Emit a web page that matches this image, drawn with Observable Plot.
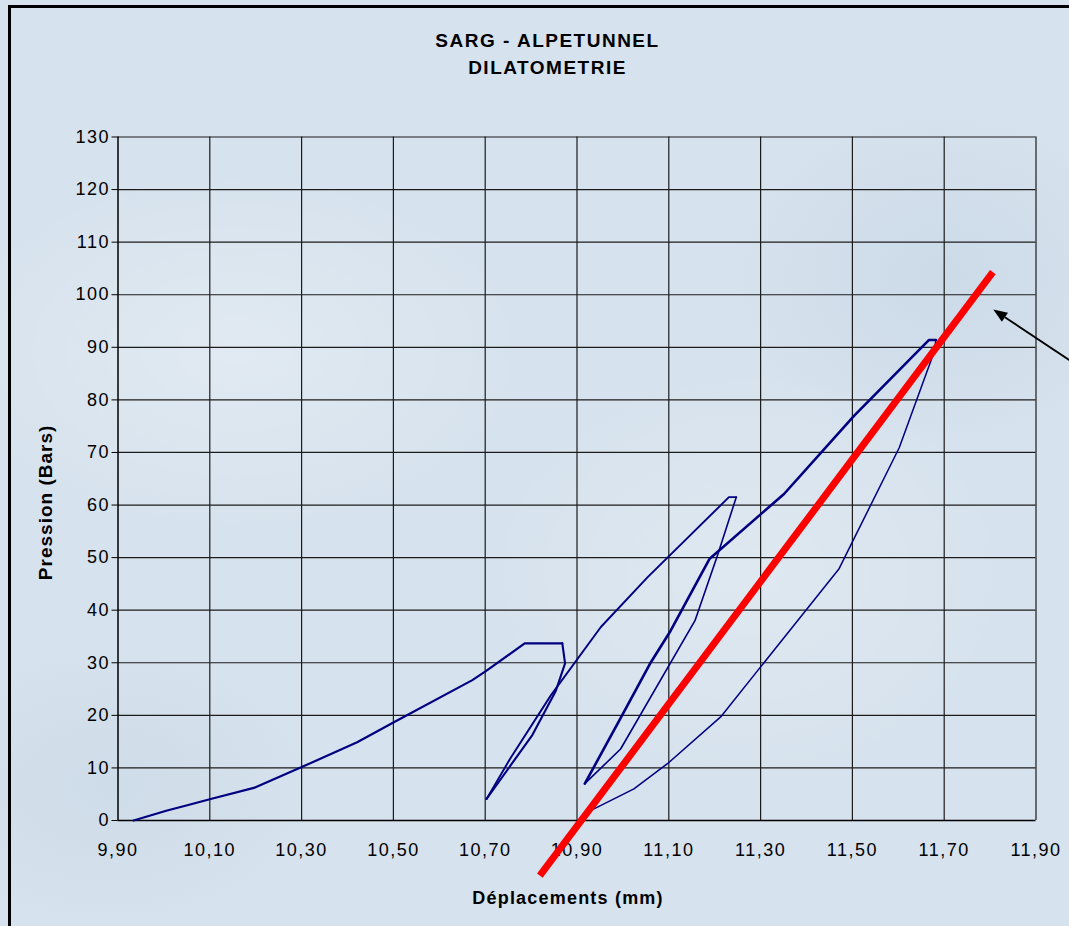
<!DOCTYPE html>
<html>
<head>
<meta charset="utf-8">
<script src="https://cdn.jsdelivr.net/npm/d3@7"></script>
<script src="https://cdn.jsdelivr.net/npm/@observablehq/plot@0.6"></script>
<style>
  html, body { margin: 0; padding: 0; }
  body {
    width: 1069px; height: 926px; overflow: hidden; position: relative;
    background-color: #d6e2ed;
    background-image:
      radial-gradient(ellipse 420px 260px at 22% 38%, rgba(255,255,255,0.28), rgba(255,255,255,0) 70%),
      radial-gradient(ellipse 380px 300px at 70% 62%, rgba(255,255,255,0.22), rgba(255,255,255,0) 70%),
      radial-gradient(ellipse 300px 240px at 88% 30%, rgba(170,190,215,0.22), rgba(170,190,215,0) 70%),
      radial-gradient(ellipse 300px 200px at 10% 85%, rgba(175,195,215,0.2), rgba(175,195,215,0) 70%);
    font-family: "Liberation Sans", Arial, sans-serif;
  }
  .frame {
    position: absolute; left: 8px; top: 5px; width: 1100px; height: 1000px;
    border-left: 3px solid #000; border-top: 3px solid #000; pointer-events: none;
  }
  .title {
    height: 100px; box-sizing: border-box; padding-top: 27px; padding-left: 26px;
    text-align: center; font-weight: bold; font-size: 19px; line-height: 27px;
    letter-spacing: 1.5px; color: #000;
  }
  #chart svg { display: block; }
</style>
</head>
<body>
<div class="title"><div>SARG - ALPETUNNEL</div><div>DILATOMETRIE</div></div>
<div id="chart"></div>
<div class="frame"></div>
<script>
// Axis ticks
const xTicks = [9.9, 10.1, 10.3, 10.5, 10.7, 10.9, 11.1, 11.3, 11.5, 11.7, 11.9];
const xTickLabels = ["9,90", "10,10", "10,30", "10,50", "10,70", "10,90", "11,10", "11,30", "11,50", "11,70", "11,90"];
const yTicks = [0, 10, 20, 30, 40, 50, 60, 70, 80, 90, 100, 110, 120, 130];

// Dilatometer cycles: displacement (mm) vs pressure (bars)
// Cycle 1 loading
const load1X = [9.934, 10.007, 10.051, 10.102, 10.196, 10.304, 10.421, 10.501, 10.672, 10.703, 10.786, 10.868];
const load1Y = [0, 1.9, 2.9, 4.1, 6.2, 10.3, 14.9, 18.7, 26.7, 28.5, 33.7, 33.7];
// Cycle 1 unloading
const unload1X = [10.868, 10.874, 10.854, 10.803, 10.703];
const unload1Y = [33.7, 29.9, 24.7, 16.3, 4.1];
// Cycle 2 loading
const load2X = [10.703, 10.756, 10.843, 10.952, 11.054, 11.231, 11.247];
const load2Y = [4.1, 12.0, 23.8, 36.8, 46.3, 61.5, 61.5];
// Cycle 2 unloading
const unload2X = [11.247, 11.206, 11.157, 10.995, 10.917];
const unload2Y = [61.5, 50.4, 38.0, 13.6, 7.0];
// Cycle 3 loading
const load3X = [10.917, 10.992, 11.061, 11.104, 11.189, 11.351, 11.504, 11.667, 11.682];
const load3Y = [7.0, 19.0, 30.1, 36.1, 49.8, 62.1, 77.0, 91.4, 91.4];
// Cycle 3 unloading
const unload3X = [11.682, 11.678, 11.602, 11.471, 11.213, 11.097, 11.024, 10.937];
const unload3Y = [91.4, 89.1, 70.9, 47.9, 19.7, 10.8, 6.0, 2.2];

// Modulus line
const fitX = [10.819, 11.806];
const fitY = [-10.5, 104.3];

// Pointer arrow (tail, tip) in data units
const arrowTail = [11.987, 86.7];
const arrowTip = [11.808, 97.1];

// Vertical position (bars) of the centre of the pressure axis title
const yTitleAt = 60.5;

const branch = (xs, ys) => xs.map((x, i) => ({x, y: ys[i]}));
const curve = "#000080";

function pointerArrow(index, scales) {
  const x1 = scales.x(arrowTail[0]), y1 = scales.y(arrowTail[1]);
  const x2 = scales.x(arrowTip[0]), y2 = scales.y(arrowTip[1]);
  const a = Math.atan2(y2 - y1, x2 - x1);
  const len = 14, half = 5.5;
  const bx = x2 - len * Math.cos(a), by = y2 - len * Math.sin(a);
  const g = d3.create("svg:g");
  g.append("line")
    .attr("x1", x1).attr("y1", y1).attr("x2", bx).attr("y2", by)
    .attr("stroke", "#000").attr("stroke-width", 1.8);
  g.append("path")
    .attr("d", `M${x2},${y2}L${bx + half * Math.sin(a)},${by - half * Math.cos(a)}L${bx - half * Math.sin(a)},${by + half * Math.cos(a)}Z`)
    .attr("fill", "#000");
  return g.node();
}

const lineOpts = (w) => ({x: "x", y: "y", stroke: curve, strokeWidth: w, strokeLinejoin: "round", strokeLinecap: "round"});

const chart = Plot.plot({
  width: 1069,
  height: 826,
  marginTop: 36.5,
  marginBottom: 106,
  marginLeft: 117.5,
  marginRight: 33.5,
  style: {
    background: "transparent",
    fontFamily: "'Liberation Sans', Arial, sans-serif",
    fontSize: "18px",
    color: "#000",
    overflow: "visible"
  },
  x: {
    domain: [9.9, 11.9],
    ticks: xTicks,
    tickFormat: (d) => xTickLabels[xTicks.findIndex((t) => Math.abs(t - d) < 1e-9)],
    tickSize: 0,
    tickPadding: 23,
    label: null
  },
  y: {
    domain: [0, 130],
    ticks: yTicks,
    tickSize: 6,
    tickPadding: 2,
    label: null
  },
  marks: [
    Plot.ruleX(xTicks.slice(1), {stroke: "#1c1c1c", strokeWidth: 1.2}),
    Plot.ruleY(yTicks.slice(1), {stroke: "#1c1c1c", strokeWidth: 1.2}),
    Plot.ruleX([9.9], {stroke: "#000", strokeWidth: 1.5}),
    Plot.ruleY([0], {stroke: "#000", strokeWidth: 1.5}),
    Plot.line(branch(load1X, load1Y), lineOpts(2.2)),
    Plot.line(branch(unload1X, unload1Y), lineOpts(2.1)),
    Plot.line(branch(load2X, load2Y), lineOpts(1.9)),
    Plot.line(branch(unload2X, unload2Y), lineOpts(1.6)),
    Plot.line(branch(load3X, load3Y), lineOpts(2.6)),
    Plot.line(branch(unload3X, unload3Y), lineOpts(1.5)),
    Plot.line(branch(fitX, fitY), {x: "x", y: "y", stroke: "#ff0000", strokeWidth: 7, strokeLinecap: "butt"}),
    pointerArrow,
    Plot.text(["Pression (Bars)"], {
      text: (d) => d, y: () => yTitleAt, frameAnchor: "left", textAnchor: "middle",
      rotate: -90, dx: -72.5,
      fontWeight: "bold", fontSize: 19, fill: "#000"
    }),
    Plot.text(["Déplacements (mm)"], {
      text: (d) => d, frameAnchor: "bottom", dx: -9, dy: 78, lineAnchor: "middle",
      fontWeight: "bold", fontSize: 18, fill: "#000"
    })
  ]
});

document.getElementById("chart").appendChild(chart);

// letter spacing for the axis texts
d3.select(chart).selectAll("text").each(function () {
  const t = this.textContent;
  let ls = "1.5px";
  if (t === "Pression (Bars)") ls = "1px";
  else if (t === "Déplacements (mm)") ls = "1.2px";
  this.style.letterSpacing = ls;
});
</script>
</body>
</html>
